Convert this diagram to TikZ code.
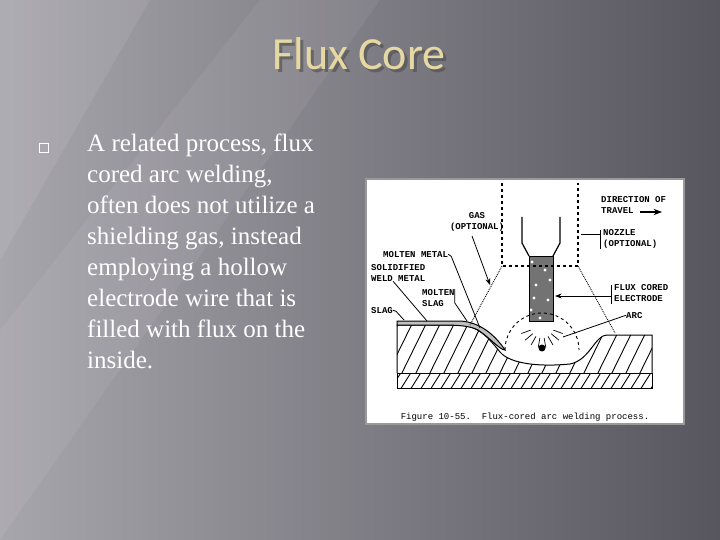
\documentclass[tikz,border=0pt]{standalone}
\usepackage{fontspec}
\setmainfont{Liberation Serif}
\newfontfamily\titlefont{Carlito}
\newfontfamily\monofont{Liberation Mono}
\usetikzlibrary{arrows.meta}
\definecolor{titlecol}{HTML}{E6D8A2}
\definecolor{bgl}{HTML}{A8A6AD}
\definecolor{bgr}{HTML}{57555D}
\tikzset{lab/.style={font=\monofont\bfseries\fontsize{9}{11}\selectfont,inner sep=0pt,align=left,anchor=north west},
lead/.style={line width=0.8pt},
body/.style={font=\fontsize{25}{31}\selectfont,text=white,anchor=north west,align=left,inner sep=0pt}}
\begin{document}
\begin{tikzpicture}[x=1pt,y=-1pt]
\useasboundingbox (0,0) rectangle (720,540);
\shade[left color=bgl,right color=bgr] (0,0) rectangle (720,540);
\fill[white,opacity=0.08] (0,0) -- (150,0) -- (0,260) -- cycle;
\fill[white,opacity=0.06] (0,330) -- (260,0) -- (380,0) -- (0,540) -- cycle;
% title
\node[font=\titlefont\fontsize{46}{50}\selectfont,text=black!70,opacity=0.6] at (362,57) {Flux Core};
\node[font=\titlefont\fontsize{46}{50}\selectfont,text=titlecol] (title) at (359,54) {Flux Core};
% bullet
\node[draw=white,line width=0.6pt,minimum size=9pt,inner sep=0pt] (bul) at (44,148) {};
\node[body] (txt) at (87,134) {A related process, flux\\cored arc welding,\\often does not utilize a\\shielding gas, instead\\employing a hollow\\electrode wire that is\\filled with flux on the\\inside.};
% figure
\draw[fill=white,draw=black!40,line width=1.2pt] (366,179) rectangle (684,424);
\begin{scope}[line width=0.9pt]
\path[clip] (397,373) rectangle (652,388);
\foreach \i in {0,...,40} \draw (380+\i*10,390) -- (392+\i*10,371);
\end{scope}
\draw[line width=1pt] (397,373) rectangle (652,388);
\begin{scope}
\path[clip] (397,373) -- (397,325) -- (460,325) .. controls (480,326) and (490,340) .. (500,352) .. controls (510,364) and (540,367) .. (570,364) .. controls (590,360) and (595,335) .. (607,335) -- (652,335) -- (652,373) -- cycle;
\foreach \i in {0,...,30} \draw[line width=0.9pt] (340+\i*14,385) -- (372+\i*14,320);
\end{scope}
\draw[line width=1pt] (397,373) -- (397,325) -- (460,325) .. controls (480,326) and (490,340) .. (500,352) .. controls (510,364) and (540,367) .. (570,364) .. controls (590,360) and (595,335) .. (607,335) -- (652,335) -- (652,373);
\draw[line width=1pt,fill=black!25] (397,325) -- (397,321) -- (460,321) .. controls (480,322) and (495,335) .. (505,350) .. controls (500,350) and (490,338) .. (478,330) .. controls (470,326) and (460,325) .. (440,325) -- cycle;
% electrode
\fill[black!55] (529,256) rectangle (553,321);
\foreach \a/\b in {532/262,545/270,536/285,548/300,531/310,540/318,550/280,534/298}
  \fill[white] (\a,\b) circle (1.6pt);
\draw[line width=1pt] (529,256) rectangle (553,321);
\draw[line width=1.2pt] (522,217) -- (522,243) -- (529,256) (560,217) -- (560,243) -- (553,256);
% nozzle dashed
\draw[line width=1.1pt,dashed] (502,183) -- (502,266) -- (578,266) -- (578,183);
% gas cone
\draw[densely dotted,line width=0.9pt] (502,266) -- (470,325) (578,266) -- (615,333);
% arc
\draw[dashed,line width=0.9pt] (505,350) arc (180:360:37);
\foreach \ang in {20,40,...,160} \draw[line width=0.7pt] (542,326)++(\ang:12) -- ++(\ang:10);
\fill (542,348) circle (3.5pt);
% labels
\node[lab] (dir) at (601,196) {DIRECTION OF\\TRAVEL};
\draw[-{Stealth},line width=1.2pt] (640,212) -- (662,212);
\node[lab,align=center,anchor=north] (gas) at (477,212) {GAS\\(OPTIONAL)};
\node[lab] (noz) at (603,229) {NOZZLE\\(OPTIONAL)};
\draw[lead] (581,234) -- (600,234) (600,230) -- (600,249);
\node[lab] (mm) at (383,251) {MOLTEN METAL};
\node[lab] (sw) at (371,264) {SOLIDIFIED\\WELD METAL};
\node[lab] (ms) at (422,289) {MOLTEN\\SLAG};
\node[lab] (sl) at (371,307) {SLAG};
\node[lab] (fc) at (614,284) {FLUX CORED\\ELECTRODE};
\node[lab] (arc) at (626,312) {ARC};
\node[font=\monofont\fontsize{9}{10}\selectfont,anchor=north] (cap) at (525,409) {Figure 10-55.\ \ Flux-cored arc welding process.};
\draw[lead] (mm.east) -- ++(3,2) -- (480,328);
\draw[lead] (sw.south) ++(-5,0) -- (427,321);
\draw[lead] (ms.north east) -- ++(0,14) -- (467,321);
\draw[lead] (sl.east) -- ++(3,1) -- (404,320);
\draw[lead,-{Stealth}] (472,236) -- (490,285);
\draw[lead] (611,285) -- (611,304);
\draw[lead,-{Stealth}] (611,296) -- (555,296);
\draw[lead] (arc.west) -- (563,337);
\end{tikzpicture}
\end{document}
